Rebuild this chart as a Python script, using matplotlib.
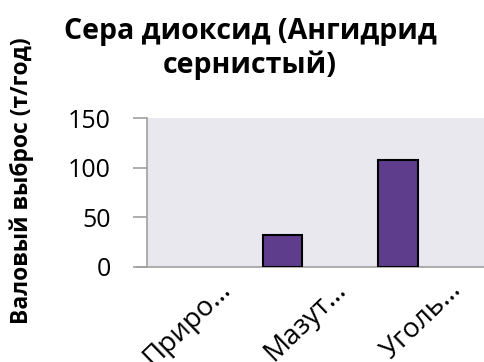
import numpy as np
import matplotlib.pyplot as plt

# data
categories = ['Природный газ', 'Мазут топочный', 'Уголь каменный']
tick_labels = ['Приро…', 'Мазут…', 'Уголь…']
values = [0, 32.4, 107.4]
title = 'Сера диоксид (Ангидрид\nсернистый)'
ylabel = 'Валовый выброс (т/год)'

plt.rcParams['font.family'] = ['Open Sans', 'DejaVu Sans']

fig = plt.figure(figsize=(4.84, 3.62), dpi=100)
ax = fig.add_axes([147 / 484, 1 - 267 / 362, (484 - 147) / 484, (267 - 118) / 362])
ax.set_facecolor('#E9E8EE')

x = np.arange(len(categories))
edges = ['black' if v > 0 else 'none' for v in values]
ax.bar(x, values, width=0.34, color='#5E3D8C', edgecolor=edges, linewidth=1.5, zorder=3)

ax.set_xlim(-0.173, 2.745)
ax.set_ylim(0, 150)
ax.set_yticks([0, 50, 100, 150])
ax.tick_params(axis='y', length=10, width=1.2, color='#A0A0A0', labelsize=18, pad=16)
ax.tick_params(axis='x', length=0, labelbottom=False)
for s in ['top', 'right']:
    ax.spines[s].set_visible(False)
ax.spines['left'].set_color('#A0A0A0')
ax.spines['bottom'].set_color('#A0A0A0')
ax.spines['left'].set_linewidth(1.2)
ax.spines['bottom'].set_linewidth(1.2)
ax.spines['bottom'].set_bounds(-0.26, 2.745)
ax.spines['bottom'].set_clip_on(False)

# rotated, truncated category labels
for xi, lab in zip(x, tick_labels):
    ax.text(xi + 0.56, -24, lab, rotation=44, rotation_mode='anchor',
            ha='right', va='baseline', fontsize=20, clip_on=False)

fig.text(250 / 484, 1 - 49 / 362, title, ha='center', va='center',
         fontsize=20.5, fontweight='bold', linespacing=1.2)
fig.text(22 / 484, 1 - 181 / 362, ylabel, rotation=90, ha='center', va='center',
         fontsize=16.5, fontweight='bold')

fig.savefig('out.png', dpi=100)
